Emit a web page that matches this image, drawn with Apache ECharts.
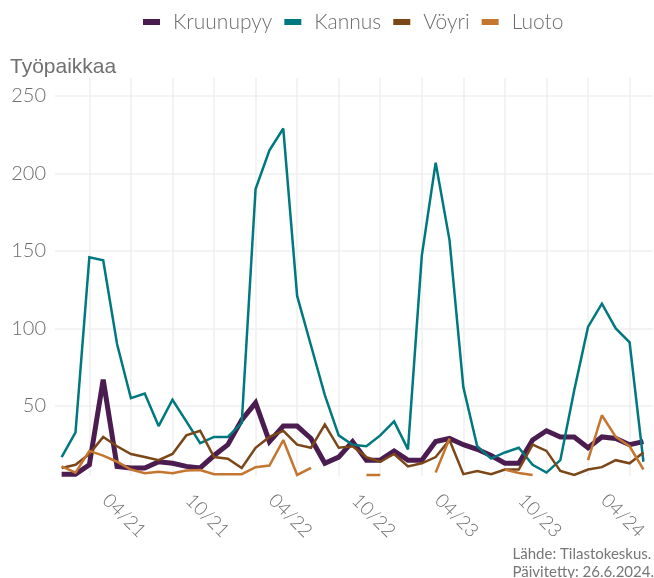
<!DOCTYPE html>
<html><head><meta charset="utf-8">
<script src="https://cdn.jsdelivr.net/npm/echarts@6/dist/echarts.min.js"></script>
<style>html,body{margin:0;padding:0;background:#fff}#c{width:654px;height:578px}</style>
</head><body><div id="c"></div>
<script>
const months = ['2020-11','2020-12',
  '2021-01','2021-02','2021-03','2021-04','2021-05','2021-06','2021-07','2021-08','2021-09','2021-10','2021-11','2021-12',
  '2022-01','2022-02','2022-03','2022-04','2022-05','2022-06','2022-07','2022-08','2022-09','2022-10','2022-11','2022-12',
  '2023-01','2023-02','2023-03','2023-04','2023-05','2023-06','2023-07','2023-08','2023-09','2023-10','2023-11','2023-12',
  '2024-01','2024-02','2024-03','2024-04','2024-05'];
const kruunupyy = [6,6,12,67,11,10,10,14,13,11,10,18,25,41,52,27,37,37,29,13,17,27,15,15,21,15,15,27,29,25,22,18,13,13,28,34,30,30,23,30,29,25,27];
const kannus = [17,33,146,144,90,55,58,37,54,40,26,30,30,39,190,215,229,121,89,57,31,25,24,31,40,22,147,207,157,62,24,16,20,23,12,7,15,60,101,116,100,91,14];
const voyri = [10,12,19,30,24,19,17,15,19,31,34,17,16,10,23,30,34,25,23,38,23,24,17,14,19,11,13,17,28,6,8,6,9,9,25,21,8,5.5,9,10.5,15,13,20];
const luoto = [11,7,21,18,14,9,6.6,7.6,6.6,8.3,8.7,6,6,6,10.5,11.5,28,5.5,10,null,null,null,5.5,5.5,null,null,null,7,29,null,null,null,9,6.7,5.5,null,null,null,15,44,30,24,9];
const gridMonths = ['2021-01','2021-04','2021-07','2021-10','2022-01','2022-04','2022-07','2022-10','2023-01','2023-04','2023-07','2023-10','2024-01','2024-04'];
const labelMonths = ['2021-04','2021-10','2022-04','2022-10','2023-04','2023-10','2024-04'];
const yTicks = [50,100,150,200,250];
const seriesNames = ['Kruunupyy','Kannus','Vöyri','Luoto'];

const colors = ['#4b1c4f','#00787f','#7b4719','#c47630'];
const widths = [5,2.5,2.5,2.5];
const gridIdx = gridMonths.map(m => months.indexOf(m));
const labelIdx = labelMonths.map(m => months.indexOf(m));
const fmt = i => { const m = months[Math.round(i)]; return m.slice(5,7) + '/' + m.slice(2,4); };
const toData = arr => arr.map((v,i) => [i, v === null ? '-' : v]);
const all = [kruunupyy, kannus, voyri, luoto];

const chart = echarts.init(document.getElementById('c'), null, {renderer:'canvas'});
chart.setOption({
  animation:false,
  color: colors,
  textStyle:{fontFamily:'Lato'},
  legend:{
    left:138, top:5, itemWidth:17, itemHeight:6, itemGap:12, icon:'rect',
    textStyle:{fontFamily:'Lato', fontWeight:300, fontSize:21, color:'#6e6e6e', lineHeight:24, padding:[0,0,0,8]},
    data: seriesNames
  },
  grid:{left:55, right:1, top:78, bottom:102, containLabel:false},
  xAxis:{
    type:'value', min:-0.48, max:42.69,
    axisLine:{show:false},
    axisTick:{show:false, customValues:gridIdx},
    splitLine:{show:true, lineStyle:{color:'#efefef', width:1.5}},
    axisLabel:{customValues:labelIdx, formatter:fmt, rotate:-45, align:'center', verticalAlign:'top',
      margin:33, fontFamily:'Lato', fontWeight:300, fontSize:19, color:'#6e6e6e'}
  },
  yAxis:{
    type:'value', min:4.8, max:261.6,
    axisLine:{show:false},
    axisTick:{show:false, customValues:yTicks},
    splitLine:{show:true, lineStyle:{color:'#efefef', width:1.5}},
    axisLabel:{customValues:yTicks, margin:9, fontFamily:'Lato', fontWeight:300, fontSize:20, color:'#6e6e6e'}
  },
  graphic:[
    {type:'text', left:10, top:57, style:{text:'Työpaikkaa', font:'21px "Liberation Sans"', fill:'#707070'}},
    {type:'text', right:0, top:545, style:{text:'Lähde: Tilastokeskus.\nPäivitetty: 26.6.2024.', font:'15px Lato', fill:'#767676', align:'right', lineHeight:18}}
  ],
  series: all.map((arr,k) => ({
    name: seriesNames[k], type:'line', data: toData(arr), showSymbol:false, symbol:'none',
    connectNulls:false, clip:true,
    lineStyle:{color:colors[k], width:widths[k], join:'miter', miterLimit:2.2, cap:'butt'}
  }))
});
</script></body></html>
